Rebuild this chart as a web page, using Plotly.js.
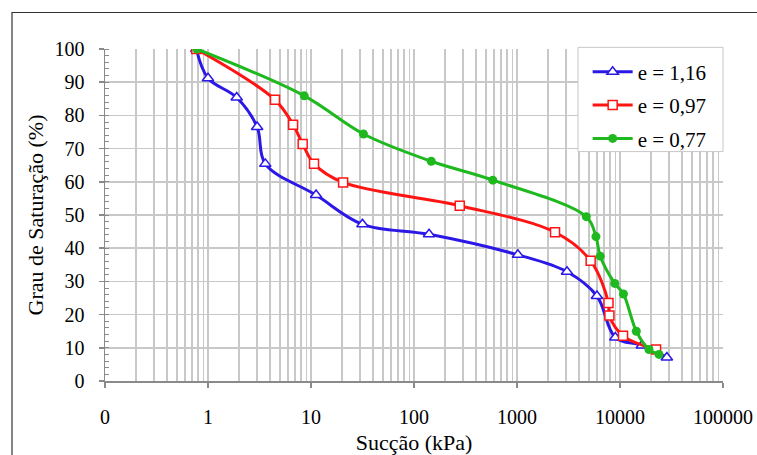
<!DOCTYPE html>
<html>
<head>
<meta charset="utf-8">
<script src="https://cdn.plot.ly/plotly-3.0.1.min.js"></script>
<style>html,body{margin:0;padding:0;background:#fff;}#chart{width:757px;height:455px;}</style>
</head>
<body>
<div id="chart"></div>
<script>
// Series e = 1,16
const suctionA = [0.77, 1.0, 1.9, 3.0, 3.6, 11.2, 31.6, 140, 1020, 3060, 5970, 9000, 16300, 28500];
const satA     = [100, 91.2, 85.4, 76.5, 65.4, 56.0, 47.2, 44.2, 38.0, 32.9, 25.6, 13.1, 10.7, 7.1];
// Series e = 0,97
const suctionB = [0.77, 4.47, 6.7, 8.3, 10.7, 20.5, 278, 2340, 5190, 7730, 7890, 10700, 22400];
const satB     = [100, 84.7, 77.2, 71.4, 65.4, 59.8, 52.8, 44.8, 36.2, 23.5, 19.7, 13.6, 9.5];
// Series e = 0,77
const suctionC = [0.78, 8.6, 32.3, 147, 583, 4710, 5840, 6430, 8890, 10800, 14400, 19100, 23900];
const satC     = [100, 85.9, 74.4, 66.2, 60.5, 49.5, 43.5, 37.6, 29.4, 26.2, 15.0, 9.5, 8.0];

const seriesNames = ['e = 1,16', 'e = 0,97', 'e = 0,77'];
const xTickVals = [0.1, 1, 10, 100, 1000, 10000, 100000];
const xTickText = ['0', '1', '10', '100', '1000', '10000', '100000'];
const yTickVals = [0, 10, 20, 30, 40, 50, 60, 70, 80, 90, 100];

const serif = 'Liberation Serif';
const gridColor = '#c8c8c8';
const axisColor = '#8a8a8a';

const traces = [
  {x: suctionA, y: satA, name: seriesNames[0], legendgroup: 'a', mode: 'lines+markers', type: 'scatter',
   line: {color: '#2b18e6', width: 3, shape: 'spline', smoothing: 1},
   marker: {symbol: 'triangle-up', size: 10, color: '#ffffff', line: {color: '#2b18e6', width: 1.5}}},
  {x: suctionB, y: satB, name: seriesNames[1], legendgroup: 'b', mode: 'lines+markers', type: 'scatter',
   line: {color: '#ff1414', width: 3, shape: 'spline', smoothing: 1},
   marker: {symbol: 'square', size: 9, color: '#ffffff', line: {color: '#ff1414', width: 1.5}}},
  {x: suctionC, y: satC, name: seriesNames[2], legendgroup: 'c', mode: 'lines+markers', type: 'scatter',
   line: {color: '#1fb81f', width: 3, shape: 'spline', smoothing: 1},
   marker: {symbol: 'circle', size: 9, color: '#1fb81f', line: {color: '#1fb81f', width: 0}}}
];

const layout = {
  width: 757, height: 455,
  margin: {l: 105, r: 34, t: 49, b: 74},
  paper_bgcolor: '#ffffff', plot_bgcolor: '#ffffff',
  font: {family: serif, size: 20, color: '#000'},
  showlegend: true,
  legend: {
    x: 0.781, y: 0.992, xanchor: 'left', yanchor: 'top',
    bgcolor: 'rgba(0,0,0,0)', borderwidth: 0,
    itemwidth: 40,
    font: {family: serif, size: 21, color: '#000'},
    tracegroupgap: 3
  },
  xaxis: {
    type: 'log', range: [-1, 5],
    tickmode: 'array', tickvals: xTickVals, ticktext: xTickText,
    ticks: 'outside', ticklen: 5, tickwidth: 1.5, tickcolor: axisColor,
    ticklabelstandoff: 12,
    showline: true, linecolor: axisColor, linewidth: 1.5,
    showgrid: true, gridcolor: gridColor, gridwidth: 1.5,
    minor: {dtick: 'D1', showgrid: true, gridcolor: gridColor, gridwidth: 1.5, ticks: ''},
    zeroline: false,
    tickfont: {family: serif, size: 20},
    title: {text: 'Sucção (kPa)', font: {family: serif, size: 22}, standoff: 8}
  },
  yaxis: {
    range: [0, 100],
    tickmode: 'array', tickvals: yTickVals,
    ticks: 'outside', ticklen: 5, tickwidth: 1.5, tickcolor: axisColor,
    ticklabelstandoff: 10,
    showline: true, linecolor: axisColor, linewidth: 1.5,
    showgrid: true, gridcolor: gridColor, gridwidth: 1.5,
    minor: {dtick: 2, ticks: 'inside', ticklen: 4, tickwidth: 1, tickcolor: axisColor, showgrid: false},
    zeroline: false,
    tickfont: {family: serif, size: 20},
    title: {text: 'Grau de Saturação (%)', font: {family: serif, size: 22}, standoff: 5}
  },
  shapes: [
    {type: 'rect', xref: 'paper', yref: 'paper', x0: -0.1505, x1: 1.3, y0: -0.5, y1: 1.11,
     line: {color: '#333333', width: 1.2}, fillcolor: 'rgba(0,0,0,0)', layer: 'below'},
    {type: 'rect', xref: 'paper', yref: 'paper', x0: 0.7654, x1: 1.0, y0: 0.691, y1: 1.005,
     line: {color: '#c8c8c8', width: 1}, fillcolor: '#ffffff', layer: 'above'}
  ]
};

Plotly.newPlot('chart', traces, layout, {displayModeBar: false, staticPlot: true});
</script>
</body>
</html>
